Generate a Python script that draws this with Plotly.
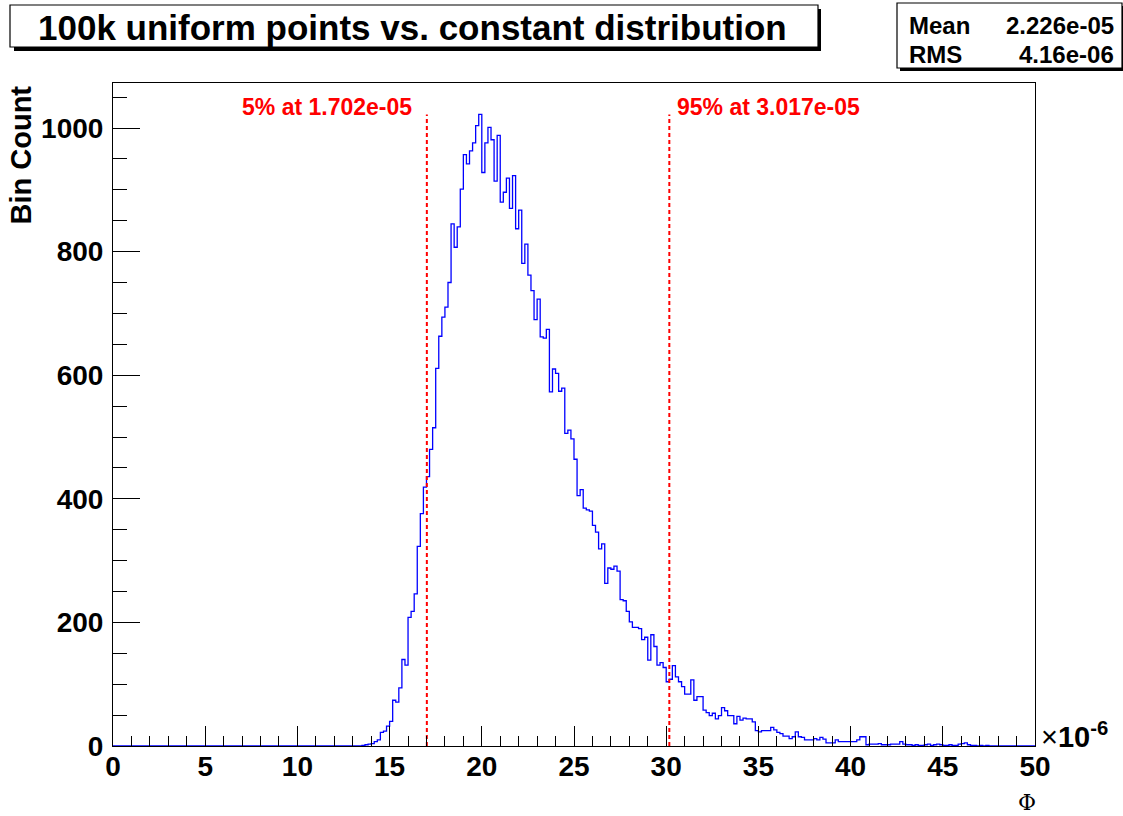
import plotly.graph_objects as go

# Histogram of Phi (units of 1e-6): 300 bins over [0, 50]
x_min, x_max = 0.0, 50.0
bin_counts = [0] * 81 + [
    1, 2, 3, 4, 7, 10, 22, 24, 32, 40,
    74, 71, 94, 140, 131, 208, 218, 246, 323, 376,
    419, 436, 480, 515, 611, 663, 694, 710, 750, 845,
    807, 840, 901, 957, 942, 963, 976, 1004, 1022, 928,
    976, 1001, 981, 914, 988, 880, 896, 919, 870, 923,
    837, 867, 781, 812, 762, 737, 690, 723, 662, 660,
    674, 573, 610, 603, 574, 579, 506, 511, 497, 464,
    405, 415, 385, 382, 380, 357, 346, 319, 327, 263,
    288, 286, 291, 283, 237, 235, 218, 201, 192, 192,
    190, 172, 176, 139, 180, 161, 131, 135, 127, 104,
    108, 130, 112, 104, 96, 84, 84, 107, 74, 80,
    80, 58, 54, 49, 53, 44, 49, 62, 57, 49,
    49, 36, 48, 42, 45, 44, 44, 39, 25, 23,
    25, 25, 25, 30, 26, 22, 20, 16, 16, 12,
    15, 23, 15, 14, 10, 10, 10, 12, 10, 14,
    11, 5, 5, 5, 10, 7, 7, 7, 7, 7,
    7, 10, 15, 15, 2, 3, 3, 3, 4, 2,
    2, 2, 3, 3, 3, 7, 3, 2, 2, 1,
    2, 1, 1, 2, 3, 1, 2, 3, 2, 1,
    1, 2, 1, 1, 3, 4, 5, 2, 1, 1,
    0, 1, 0, 1,
] + [0] * 15

title_text = "100k uniform points vs. constant distribution"
stat_names = ["Mean", "RMS"]
stat_values = ["2.226e-05", "4.16e-06"]
quantile_labels = ["5%", "95%"]
quantile_values = [1.702e-05, 3.017e-05]
x_ticks = [0, 5, 10, 15, 20, 25, 30, 35, 40, 45, 50]
y_ticks = [0, 200, 400, 600, 800, 1000]

FONT = "Liberation Sans, Arial, Helvetica, sans-serif"
W, H = 1123, 816
L, R, T, B = 113, 1035, 83, 746  # frame in pixels


def px(x):
    return (x - L) / (R - L)


def py(y):
    return (B - y) / (B - T)


bw = (x_max - x_min) / len(bin_counts)
edges = [x_min + i * bw for i in range(len(bin_counts) + 1)]
steps = bin_counts + [bin_counts[-1]]

fig = go.Figure()
fig.add_trace(go.Scatter(
    x=edges, y=steps, mode="lines", line_shape="hv",
    line=dict(color="#0000ff", width=1.3), hoverinfo="skip", showlegend=False,
))

annotations = []

# quantile markers
peak = max(bin_counts)
for lab, val in zip(quantile_labels, quantile_values):
    xv = val * 1e6
    fig.add_trace(go.Scatter(
        x=[xv, xv], y=[0, peak], mode="lines",
        line=dict(color="#ff0000", width=2, dash="4px,3px"),
        hoverinfo="skip", showlegend=False,
    ))
    left = lab == quantile_labels[0]
    annotations.append(dict(
        x=xv, y=1034, xref="x", yref="y",
        text=f"<b>{lab} at {val:.3e}</b>",
        xanchor="right" if left else "left", yanchor="middle",
        xshift=-13 if left else 6,
        showarrow=False, font=dict(family=FONT, size=23, color="#ff0000"),
    ))

shapes = []
# title box with drop shadow
shapes.append(dict(type="rect", xref="paper", yref="paper",
                   x0=px(14), x1=px(821), y0=py(9), y1=py(51),
                   fillcolor="black", line=dict(width=0), layer="above"))
shapes.append(dict(type="rect", xref="paper", yref="paper",
                   x0=px(10), x1=px(818), y0=py(5), y1=py(47),
                   fillcolor="white", line=dict(color="black", width=1.2), layer="above"))
# statistics box with drop shadow
shapes.append(dict(type="rect", xref="paper", yref="paper",
                   x0=px(900), x1=px(1126), y0=py(6), y1=py(71),
                   fillcolor="black", line=dict(width=0), layer="above"))
shapes.append(dict(type="rect", xref="paper", yref="paper",
                   x0=px(897), x1=px(1122), y0=py(3), y1=py(68),
                   fillcolor="white", line=dict(color="black", width=1.2), layer="above"))

annotations += [
    dict(x=px(412), y=py(27), xref="paper", yref="paper", text=f"<b>{title_text}</b>",
         showarrow=False, xanchor="center", yanchor="middle",
         font=dict(family=FONT, size=35, color="black")),
    dict(x=px(20), y=py(84), xref="paper", yref="paper", text="<b>Bin Count</b>",
         textangle=-90, showarrow=False, xanchor="center", yanchor="top",
         font=dict(family=FONT, size=29, color="black")),
    dict(x=px(1039), y=py(735), xref="paper", yref="paper",
         text="×<b>10<sup>-6</sup></b>", showarrow=False, xanchor="left", yanchor="middle",
         font=dict(family=FONT, size=29, color="black")),
    dict(x=px(1027), y=py(802), xref="paper", yref="paper", text="Φ",
         showarrow=False, xanchor="center", yanchor="middle",
         font=dict(family="DejaVu Serif, serif", size=22, color="black")),
]
for i, (n, v) in enumerate(zip(stat_names, stat_values)):
    yc = 25 + 30 * i
    annotations.append(dict(x=px(907), y=py(yc), xref="paper", yref="paper",
                            text=f"<b>{n}</b>", showarrow=False, xanchor="left",
                            yanchor="middle", font=dict(family=FONT, size=24, color="black")))
    annotations.append(dict(x=px(1116), y=py(yc), xref="paper", yref="paper",
                            text=f"<b>{v}</b>", showarrow=False, xanchor="right",
                            yanchor="middle", font=dict(family=FONT, size=24, color="black")))

fig.update_layout(
    width=W, height=H,
    margin=dict(l=L, r=W - R, t=T, b=H - B, pad=0),
    paper_bgcolor="white", plot_bgcolor="white",
    shapes=shapes, annotations=annotations,
    showlegend=False,
    xaxis=dict(
        range=[x_min, x_max], tickvals=x_ticks, ticktext=[str(v) for v in x_ticks],
        ticks="inside", ticklen=20, tickwidth=1, tickcolor="black",
        minor=dict(dtick=1, ticks="inside", ticklen=10, tickwidth=1, tickcolor="black"),
        showline=True, linecolor="black", linewidth=1, mirror=True,
        showgrid=False, zeroline=False, ticklabelstandoff=-5,
        tickfont=dict(family=FONT, size=28, color="black", weight="bold"),
    ),
    yaxis=dict(
        range=[0, (B - T) / 0.618], tickvals=y_ticks, ticktext=[str(v) for v in y_ticks],
        ticks="inside", ticklen=27, tickwidth=1, tickcolor="black",
        minor=dict(dtick=50, ticks="inside", ticklen=14, tickwidth=1, tickcolor="black"),
        showline=True, linecolor="black", linewidth=1, mirror=True,
        showgrid=False, zeroline=False, ticklabelstandoff=3,
        tickfont=dict(family=FONT, size=28, color="black", weight="bold"),
    ),
)

fig.write_html("out.html")
